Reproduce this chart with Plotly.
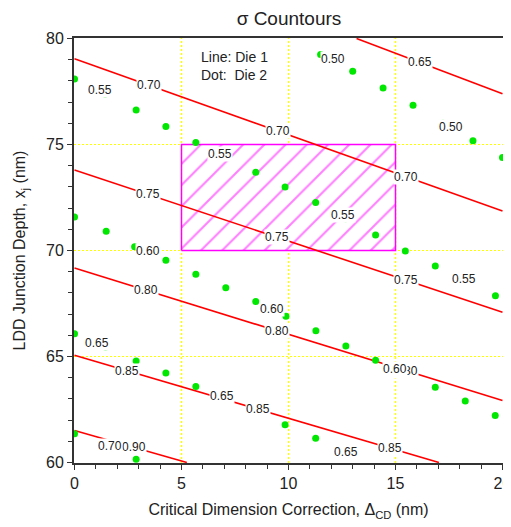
import numpy as np
import plotly.graph_objects as go

# ---------------- data ----------------
# Die 1 contour lines (straight segments): level, x endpoints, y endpoints
line_levels = ["0.65", "0.70", "0.75", "0.80", "0.85", "0.90"]
line_x = [[13.18, 20], [0, 20], [0, 20], [0, 20], [0, 17.03], [0, 5.25]]
line_y = [[80, 77.39], [79.05, 71.86], [73.8, 67.09], [69.17, 62.92], [65.06, 60], [61.51, 60]]
line_label_x = [[16.13], [3.49, 9.5, 15.5], [3.43, 9.45, 15.51], [3.36, 9.45, 15.48],
                [2.46, 8.59, 14.73], [2.77]]

# Die 2 contour dots
dot_levels = ["0.50", "0.55", "0.60", "0.65", "0.70"]
dot_x = [
    [11.5, 13.0, 14.42, 15.82, 17.22, 18.62, 20.0],
    [0, 1.43, 2.88, 4.27, 5.67, 7.07, 8.47, 9.84, 11.27, 12.67, 14.07, 15.46, 16.86, 18.26, 19.67],
    [0, 1.48, 2.81, 4.27, 5.67, 7.07, 8.47, 9.88, 11.28, 12.68, 14.07, 15.46, 16.86, 18.26, 19.66],
    [0, 1.45, 2.88, 4.27, 5.67, 7.07, 8.47, 9.84, 11.27, 12.67],
    [0, 1.45, 2.88],
]
dot_y = [
    [79.24, 78.45, 77.66, 76.85, 76.0, 75.18, 74.39],
    [78.09, 77.38, 76.63, 75.85, 75.10, 74.4, 73.69, 72.99, 72.26, 71.5, 70.73, 69.98, 69.27, 68.57, 67.87],
    [71.58, 70.91, 70.18, 69.54, 68.88, 68.24, 67.59, 66.90, 66.21, 65.49, 64.82, 64.17, 63.55, 62.90, 62.22],
    [66.07, 65.45, 64.79, 64.22, 63.59, 63.0, 62.40, 61.78, 61.14, 60.5],
    [61.36, 60.75, 60.15],
]
dot_label_x = [[12.09, 17.61], [1.18, 6.8, 12.53, 18.2], [3.43, 9.22, 14.97], [1.03, 6.88, 12.71], [1.68]]
dot_label_y = [[79.03, 75.83], [77.55, 74.55, 71.66, 68.67], [69.98, 67.26, 64.43], [65.65, 63.12, 60.50], [60.78]]

# Target window (hatched rectangle)
win_x = [5, 15]
win_y = [70, 75]

x_ticks = [0, 5, 10, 15, 20]
y_ticks = [60, 65, 70, 75, 80]
x_grid = [5, 10, 15]
y_grid = [65, 70, 75]

FONT = "Liberation Sans, Arial, sans-serif"

# ---------------- figure ----------------
fig = go.Figure()

# hatched rectangle
fig.add_trace(go.Scatter(
    x=[win_x[0], win_x[1], win_x[1], win_x[0], win_x[0]],
    y=[win_y[0], win_y[0], win_y[1], win_y[1], win_y[0]],
    mode="lines", fill="toself",
    line=dict(color="#ff00ff", width=1.5),
    fillcolor="white",
    fillpattern=dict(shape="/", fgcolor="#ff00ff", bgcolor="white", size=15, solidity=0.14),
    hoverinfo="skip", showlegend=False,
))

for lx, ly in zip(line_x, line_y):
    fig.add_trace(go.Scatter(x=lx, y=ly, mode="lines",
                             line=dict(color="#ff0000", width=1.6),
                             showlegend=False))

for dx, dy in zip(dot_x, dot_y):
    fig.add_trace(go.Scatter(x=dx, y=dy, mode="markers",
                             marker=dict(color="#00e800", size=7, line=dict(width=0)),
                             showlegend=False))

# dotted yellow grid as shapes below the data
for gx in x_grid:
    fig.add_shape(type="line", xref="x", yref="paper", x0=gx, x1=gx, y0=0, y1=1,
                  line=dict(color="#ffff00", width=1.5, dash="2px,2px"), layer="below")
for gy in y_grid:
    fig.add_shape(type="line", xref="paper", yref="y", x0=0, x1=1, y0=gy, y1=gy,
                  line=dict(color="#ffff00", width=1, dash="2px,2px"), layer="below")

lab_font = dict(family=FONT, size=12, color="#222222")
annotations = []
for lev, lx, ly, labx in zip(line_levels, line_x, line_y, line_label_x):
    for x in labx:
        y = float(np.interp(x, lx, ly))
        annotations.append(dict(x=x, y=y, xref="x", yref="y", text=lev, showarrow=False,
                                font=lab_font, bgcolor="white", borderpad=0))
for lev, lxs, lys in zip(dot_levels, dot_label_x, dot_label_y):
    for x, y in zip(lxs, lys):
        annotations.append(dict(x=x, y=y, xref="x", yref="y", text=lev, showarrow=False,
                                font=lab_font, bgcolor="white", borderpad=0))

annotations.append(dict(x=5.8, y=79.6, xref="x", yref="y", xanchor="left", yanchor="top",
                        align="left", showarrow=False,
                        text="Line: Die 1<br>Dot:\u00a0\u00a0Die 2",
                        font=dict(family=FONT, size=14, color="#222222")))

axis_common = dict(
    showline=True, linecolor="#333333", linewidth=2, mirror=True,
    showgrid=False,
    zeroline=False, automargin=False, ticklabeloverflow="allow",
    ticks="outside", ticklen=5, tickwidth=1, tickcolor="#333333",
    tickfont=dict(family=FONT, size=16, color="#222222"),
    minor=dict(dtick=1, ticks="outside", ticklen=4, tickwidth=1, tickcolor="#333333", showgrid=False),
)

# tiny range padding so the dotted grid lines fall on pixel centres (crisp)
PL, PR, PT, PB = 66, 8, 30, 64
W, H = 503, 519
dx_pad = (W - PL - PR) / 21.4 / 2 - 10      # 5 units = 107 px
dy_pad = (H - PT - PB) / 21.2 / 2 - 10      # 5 units = 106 px

# page body has an 8px margin, so the figure is 8px smaller than the window
fig.update_layout(
    width=W, height=H,
    margin=dict(l=PL, r=PR, t=PT, b=PB, autoexpand=False),
    paper_bgcolor="white", plot_bgcolor="white",
    title=dict(text="σ Countours", x=0.5586, xanchor="center", y=0.981, yanchor="middle",
               automargin=False,
               font=dict(family=FONT, size=19, color="#222222")),
    xaxis=dict(range=[0 - dx_pad, 20 + dx_pad], tickvals=x_ticks, **axis_common,
               title=dict(text="Critical Dimension Correction, Δ<sub>CD</sub> (nm)", standoff=13,
                          font=dict(family=FONT, size=16, color="#222222"))),
    yaxis=dict(range=[60 - dy_pad, 80 + dy_pad], tickvals=y_ticks, **axis_common,
               title=dict(text="LDD Junction Depth, x<sub>j</sub> (nm)", standoff=16,
                          font=dict(family=FONT, size=16, color="#222222"))),
    annotations=annotations,
)

fig.write_html("out.html")
